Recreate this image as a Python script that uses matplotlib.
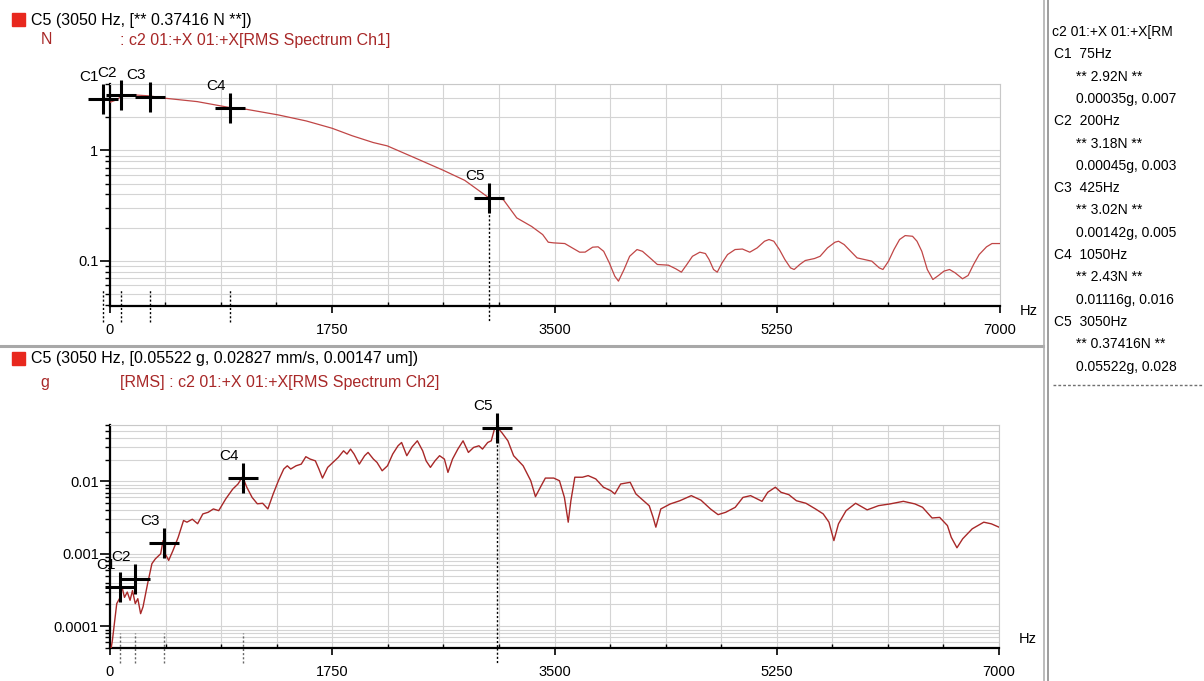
import numpy as np
import matplotlib.pyplot as plt
import matplotlib.transforms as mtransforms
from matplotlib.lines import Line2D
from matplotlib.patches import Rectangle
from matplotlib.ticker import FixedLocator, LogLocator, NullFormatter, FuncFormatter

plt.rcParams['font.family'] = ['Liberation Sans', 'DejaVu Sans']

W, H = 1204, 681

# Ch1 force spectrum (N), frequency
freq_n = [0, 53, 94, 205, 316, 440, 690, 944, 1077, 1326, 1548, 1750, 1908, 2074,
          2185, 2406, 2628, 2794, 2982, 3098, 3203, 3320, 3407, 3451, 3494, 3581,
          3640, 3698, 3741, 3800, 3843, 3887, 3931, 3974, 4003, 4047, 4091, 4149,
          4192, 4251, 4309, 4396, 4454, 4498, 4541, 4585, 4643, 4687, 4716, 4751,
          4780, 4818, 4861, 4920, 4978, 5036, 5094, 5152, 5187, 5225, 5269, 5312,
          5356, 5385, 5429, 5472, 5545, 5589, 5647, 5706, 5734, 5778, 5821, 5880,
          5938, 5996, 6054, 6083, 6127, 6170, 6214, 6258, 6316, 6351, 6389, 6432,
          6476, 6520, 6563, 6607, 6651, 6709, 6753, 6796, 6840, 6898, 6941, 7000]
force_n = [2.72, 2.87, 3.08, 3.18, 3.12, 2.97, 2.77, 2.45, 2.36, 2.10, 1.85, 1.59, 1.36, 1.18,
           1.10, 0.853, 0.659, 0.536, 0.374, 0.358, 0.245, 0.205, 0.173, 0.1475, 0.1455, 0.1435,
           0.131, 0.1198, 0.120, 0.133, 0.134, 0.122, 0.0959, 0.0727, 0.0655, 0.0835, 0.110, 0.1266,
           0.122, 0.1064, 0.0927, 0.0914, 0.0847, 0.079, 0.0927, 0.110, 0.1198, 0.1165, 0.1028, 0.0835,
           0.079, 0.0959, 0.114, 0.1266, 0.128, 0.1198, 0.131, 0.1506, 0.156, 0.1506, 0.1266, 0.1028,
           0.0864, 0.0835, 0.0927, 0.1007, 0.105, 0.110, 0.131, 0.1475, 0.1506, 0.1405, 0.1249, 0.1064,
           0.1028, 0.0993, 0.0864, 0.0835, 0.0993, 0.1266, 0.156, 0.1694, 0.167, 0.1506, 0.122, 0.0835,
           0.0678, 0.0737, 0.0807, 0.0835, 0.0779, 0.0688, 0.0737, 0.0927, 0.114, 0.134, 0.1435, 0.1435]

# Ch2 acceleration spectrum (g)
freq_g = [0, 19, 53, 80, 94, 114, 136, 158, 177, 199, 219, 241, 260, 296, 330, 357, 399, 418,
          435, 462, 496, 537, 579, 606, 648, 690, 731, 773, 814, 856, 911, 966, 1008, 1044,
          1077, 1119, 1160, 1202, 1243, 1285, 1326, 1368, 1396, 1423, 1465, 1506, 1542, 1576,
          1617, 1645, 1673, 1714, 1756, 1797, 1839, 1866, 1894, 1922, 1963, 2005, 2032, 2074,
          2102, 2143, 2185, 2226, 2268, 2296, 2337, 2379, 2420, 2462, 2489, 2523, 2559, 2595,
          2633, 2661, 2697, 2739, 2780, 2822, 2863, 2905, 2933, 2974, 3002, 3029, 3050, 3085,
          3133, 3178, 3253, 3313, 3350, 3389, 3428, 3494, 3539, 3578, 3608, 3629, 3660, 3720,
          3765, 3825, 3885, 3945, 3975, 4021, 4096, 4141, 4201, 4246, 4276, 4298, 4337, 4412,
          4487, 4577, 4653, 4728, 4788, 4848, 4923, 4984, 5044, 5134, 5179, 5239, 5284, 5345,
          5405, 5480, 5555, 5616, 5661, 5700, 5736, 5796, 5871, 5962, 6052, 6142, 6247, 6338,
          6398, 6473, 6533, 6594, 6624, 6669, 6714, 6789, 6880, 6940, 7000]
acc_g = [4e-5, 6.4e-5, 2.05e-4, 2.5e-4, 3.5e-4, 2.5e-4, 2.96e-4, 2.28e-4, 3.1e-4, 2.05e-4, 2.4e-4, 1.49e-4, 1.85e-4, 3.86e-4, 7.3e-4, 8.5e-4, 1.0e-3, 1.52e-3,
         1.0e-3, 8.1e-4, 1.11e-3, 1.69e-3, 2.88e-3, 2.73e-3, 3.0e-3, 2.6e-3, 3.55e-3, 3.74e-3, 4.16e-3, 3.94e-3, 5.71e-3, 7.8e-3, 9.2e-3, 0.0116,
         8.3e-3, 6.0e-3, 4.9e-3, 4.98e-3, 4.16e-3, 6.7e-3, 0.0102, 0.0148, 0.0164, 0.0148, 0.0164, 0.0173, 0.0219, 0.0203,
         0.0192, 0.0148, 0.0111, 0.0156, 0.0183, 0.0214, 0.0264, 0.0238, 0.0279, 0.0238, 0.0173, 0.0226, 0.0251, 0.0203,
         0.0183, 0.0140, 0.0164, 0.0238, 0.031, 0.0344, 0.0226, 0.030, 0.0363, 0.0264, 0.0192, 0.0156, 0.0192, 0.0226,
         0.0203, 0.0133, 0.0203, 0.0279, 0.0363, 0.0251, 0.0294, 0.031, 0.0279, 0.0344, 0.0363, 0.0542, 0.0552, 0.0472,
         0.0363, 0.0226, 0.0164, 0.0102, 6.15e-3, 8.3e-3, 0.0111, 0.0111, 0.0102, 6.0e-3, 2.73e-3, 5.4e-3, 0.0114, 0.0114,
         0.012, 0.0108, 8.3e-3, 7.4e-3, 6.7e-3, 9.2e-3, 9.7e-3, 6.7e-3, 5.4e-3, 4.6e-3, 3.2e-3, 2.33e-3, 4.16e-3, 4.88e-3,
         5.4e-3, 6.35e-3, 5.5e-3, 4.16e-3, 3.47e-3, 3.74e-3, 4.38e-3, 6.0e-3, 6.35e-3, 5.3e-3, 7.06e-3, 8.3e-3, 7.06e-3, 6.55e-3,
         5.4e-3, 4.98e-3, 4.16e-3, 3.55e-3, 2.73e-3, 1.52e-3, 2.59e-3, 3.94e-3, 4.98e-3, 4.04e-3, 4.62e-3, 4.88e-3, 5.3e-3, 4.88e-3,
         4.38e-3, 3.12e-3, 3.18e-3, 2.45e-3, 1.69e-3, 1.21e-3, 1.61e-3, 2.21e-3, 2.73e-3, 2.59e-3, 2.33e-3]

cursor_names = ['C1', 'C2', 'C3', 'C4', 'C5']
cursor_hz = [75, 200, 425, 1050, 3050]
cursor_hz_top_axis = [-50, 88, 316, 944, 2982]   # where the upper plot shows them
cursor_n = [2.92, 3.18, 3.02, 2.43, 0.37416]
cursor_g = [0.00035, 0.00045, 0.00142, 0.01116, 0.05522]
cursor_vel = ['0.007', '0.003', '0.005', '0.016', '0.028']

x_ticks = [0, 1750, 3500, 5250, 7000]
x_grid = [437.5 * k for k in range(17)]

line_red = '#c04646'
dark_red = '#a82828'
grid_c = '#d4d4d4'


def fx(px):
    return px / W


def fy(py):
    return 1 - py / H


def setup(ax, ylim):
    ax.set_yscale('log')
    ax.set_ylim(*ylim)
    ax.set_xlim(0, 7000)
    ax.xaxis.set_major_locator(FixedLocator(x_ticks))
    ax.xaxis.set_minor_locator(FixedLocator(x_grid))
    ax.xaxis.set_major_formatter(FuncFormatter(lambda v, _: '%d' % v))
    ax.yaxis.set_major_locator(LogLocator(base=10))
    ax.yaxis.set_minor_locator(LogLocator(base=10, subs=np.arange(2, 10)))
    ax.yaxis.set_minor_formatter(NullFormatter())
    ax.yaxis.set_major_formatter(FuncFormatter(lambda v, _: '%g' % v))
    ax.grid(which='both', axis='both', color=grid_c, lw=0.8)
    ax.set_axisbelow(True)
    ax.tick_params(axis='x', which='major', direction='out', length=5, width=1.2,
                   pad=7, labelsize=10.5)
    ax.tick_params(axis='x', which='minor', direction='in', length=3, width=1)
    ax.tick_params(axis='y', which='major', direction='out', length=7, width=1.2,
                   pad=1, labelsize=10.5)
    ax.tick_params(axis='y', which='minor', direction='out', length=3.5, width=1)
    for s in ['left', 'bottom']:
        ax.spines[s].set_linewidth(1.6)
    for s in ['top', 'right']:
        ax.spines[s].set_color('#c8c8c8')
        ax.spines[s].set_linewidth(0.8)


def cursors(ax, xs, vals, ylim, stem, solid_c):
    trans = mtransforms.blended_transform_factory(ax.transData, ax.transAxes)
    for i, (name, x, v) in enumerate(zip(cursor_names, xs, vals)):
        ax.plot(x, v, marker='+', ms=22, mew=2.2, color='black', clip_on=False, zorder=6)
        ax.annotate(name, (x, v), xytext=(-14, 22), textcoords='offset pixels',
                    ha='center', va='center', fontsize=11, annotation_clip=False)
        if i < 4:
            ax.plot([x, x], [-stem, stem], transform=trans, ls=(0, (1.5, 1.5)),
                    color=solid_c, lw=1, clip_on=False, zorder=4)
        else:
            ax.plot([x, x], [v, ylim[0]], ls=(0, (1.5, 1.5)), color='black', lw=1,
                    clip_on=False, zorder=4)
            ax.plot([x, x], [0, -stem], transform=trans, ls=(0, (1.5, 1.5)),
                    color='black', lw=1, clip_on=False, zorder=4)


fig = plt.figure(figsize=(W / 100, H / 100), dpi=100)

# upper plot: force
ax1 = fig.add_axes([fx(109.5), fy(306), fx(999.5) - fx(109.5), (306 - 84) / H])
ylim1 = (0.039, 4.0)
setup(ax1, ylim1)
ax1.plot(freq_n, force_n, color=line_red, lw=0.9, zorder=3)
cursors(ax1, cursor_hz_top_axis, cursor_n, ylim1, 0.072, 'black')

# lower plot: acceleration
ax2 = fig.add_axes([fx(110), fy(648), fx(999) - fx(110), (648 - 425) / H])
ylim2 = (5e-5, 0.06)
setup(ax2, ylim2)
ax2.plot(freq_g, acc_g, color=dark_red, lw=1.0, zorder=3)
cursors(ax2, cursor_hz, cursor_g, ylim2, 0.067, '#666666')

fig.text(fx(1020), fy(311), 'Hz', fontsize=10.5, va='center', ha='left')
fig.text(fx(1019), fy(639), 'Hz', fontsize=10.5, va='center', ha='left')

# headers
for y0 in [13, 352]:
    fig.patches.append(Rectangle((fx(12), fy(y0 + 13)), 13 / W, 13 / H,
                                 transform=fig.transFigure, color='#e8281e'))
fig.text(fx(31), fy(20), 'C5 (3050 Hz, [** %.5f N **])' % cursor_n[4],
         fontsize=11.5, va='center')
fig.text(fx(41), fy(40), 'N', fontsize=11.5, va='center', color=dark_red)
fig.text(fx(120), fy(40), ': c2 01:+X 01:+X[RMS Spectrum Ch1]', fontsize=11.5,
         va='center', color=dark_red)
fig.text(fx(31), fy(358), 'C5 (3050 Hz, [%.5f g, 0.02827 mm/s, 0.00147 um])' % cursor_g[4],
         fontsize=11.5, va='center')
fig.text(fx(40), fy(382), 'g', fontsize=11.5, va='center', color=dark_red)
fig.text(fx(120), fy(382), '[RMS] : c2 01:+X 01:+X[RMS Spectrum Ch2]', fontsize=11.5,
         va='center', color=dark_red)

# separators
fig.add_artist(Line2D([0, fx(1043)], [fy(346.5), fy(346.5)], color='#a8a8a8', lw=2.2))
fig.add_artist(Line2D([fx(1044), fx(1044)], [0, 1], color='#b0b0b0', lw=1.2))
fig.add_artist(Line2D([fx(1048), fx(1048)], [0, 1], color='#8c8c8c', lw=1.2))

# cursor panel (the window cuts the text at its right edge)
rows = [('c2 01:+X 01:+X[RM', 1052)]
for name, hz, n, g, vel in zip(cursor_names, cursor_hz, cursor_n, cursor_g, cursor_vel):
    rows.append(('%s  %dHz' % (name, hz), 1054))
    rows.append(('** %sN **' % n, 1076))
    rows.append(('%.5fg, %s' % (g, vel), 1076))
for i, (txt, x0) in enumerate(rows):
    fig.text(fx(x0), fy(32 + 22.3 * i), txt, fontsize=10, va='center', ha='left')
fig.add_artist(Line2D([fx(1053), 1], [fy(385), fy(385)], color='#707070', lw=1,
                      ls=(0, (2, 1.5))))

fig.savefig('out.png', dpi=100)
